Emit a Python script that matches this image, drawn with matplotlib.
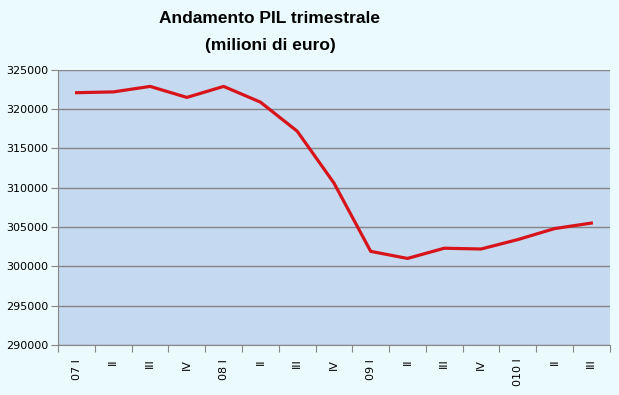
import numpy as np
import matplotlib.pyplot as plt

# quarterly GDP, millions of euro
quarters = ['07 I', 'II', 'III', 'IV', '08 I', 'II', 'III', 'IV',
            '09 I', 'II', 'III', 'IV', '010 I', 'II', 'III']
pil = [322100, 322200, 322900, 321500, 322900, 320900, 317200, 310600,
       301900, 301000, 302300, 302200, 303400, 304800, 305500]

fig = plt.figure(figsize=(6.19, 3.95), dpi=100)
fig.patch.set_facecolor('#ebfafc')
ax = fig.add_axes([0.094, 0.127, 0.891, 0.696])
ax.set_facecolor('#c5d9f1')

x = np.arange(len(quarters))
ax.plot(x, pil, color='#d8141b', lw=2.3, solid_joinstyle='round', zorder=3)

ax.set_xlim(-0.5, len(quarters) - 0.5)
ax.set_ylim(290000, 325000)
ax.set_yticks(np.arange(290000, 325001, 5000))
ax.yaxis.grid(True, color='#868686', lw=1)
ax.set_axisbelow(True)

# tick marks on category boundaries, labels in the middle
ax.set_xticks(np.arange(-0.5, len(quarters), 1))
ax.set_xticklabels([])
ax.set_xticks(x, minor=True)
ax.set_xticklabels(quarters, minor=True, rotation=90, fontsize=8)
ax.tick_params(axis='x', which='minor', length=0, pad=10)
ax.tick_params(axis='x', which='major', length=5, color='#868686')
ax.tick_params(axis='y', length=5, color='#868686', labelsize=8, pad=2)

for s in ['top', 'right']:
    ax.spines[s].set_visible(False)
for s in ['left', 'bottom']:
    ax.spines[s].set_color('#868686')

fig.text(0.436, 0.953, 'Andamento PIL trimestrale', ha='center', va='center',
         fontsize=12.5, fontweight='bold', family='Liberation Sans')
fig.text(0.436, 0.886, '(milioni di euro)', ha='center', va='center',
         fontsize=12.5, fontweight='bold', family='Liberation Sans')

plt.savefig('out.png', dpi=100, facecolor=fig.get_facecolor())
